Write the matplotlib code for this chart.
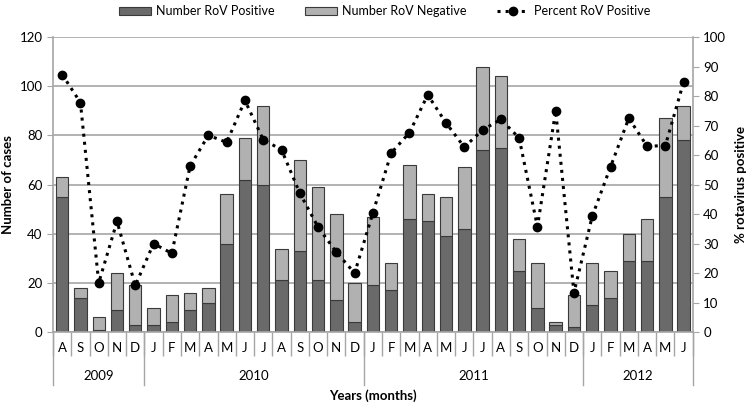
import numpy as np
import matplotlib.pyplot as plt
from matplotlib.lines import Line2D
from matplotlib.patches import Patch

plt.rcParams['font.family'] = ['Lato', 'DejaVu Sans']

months = ['A', 'S', 'O', 'N', 'D',
          'J', 'F', 'M', 'A', 'M', 'J', 'J', 'A', 'S', 'O', 'N', 'D',
          'J', 'F', 'M', 'A', 'M', 'J', 'J', 'A', 'S', 'O', 'N', 'D',
          'J', 'F', 'M', 'A', 'M', 'J']
years = ['2009', '2010', '2011', '2012']
year_counts = [5, 12, 12, 6]

positive = [55, 14, 1, 9, 3,
            3, 4, 9, 12, 36, 62, 60, 21, 33, 21, 13, 4,
            19, 17, 46, 45, 39, 42, 74, 75, 25, 10, 3, 2,
            11, 14, 29, 29, 55, 78]
negative = [8, 4, 5, 15, 16,
            7, 11, 7, 6, 20, 17, 32, 13, 37, 38, 35, 16,
            28, 11, 22, 11, 16, 25, 34, 29, 13, 18, 1, 13,
            17, 11, 11, 17, 32, 14]
percent = [87.3, 77.8, 16.7, 37.5, 15.8,
           30.0, 26.7, 56.3, 66.7, 64.3, 78.5, 65.2, 61.8, 47.1, 35.6, 27.1, 20.0,
           40.4, 60.7, 67.6, 80.4, 70.9, 62.7, 68.5, 72.1, 65.8, 35.7, 75.0, 13.3,
           39.3, 56.0, 72.5, 63.0, 63.2, 84.8]

dark = '#6a6a6a'
light = '#b1b1b1'
edge = '#3a3a3a'
grid = '#a6a6a6'
fs = 9.5

fig = plt.figure(figsize=(7.5, 4.07), dpi=100)
ax = fig.add_axes([0.0707, 0.184, 0.853, 0.725])
x = np.arange(len(months))

ax.bar(x, positive, width=0.68, color=dark, edgecolor=edge, linewidth=0.8, zorder=2)
ax.bar(x, negative, bottom=positive, width=0.68, color=light, edgecolor=edge, linewidth=0.8, zorder=2)

ax.set_ylim(0, 120)
ax.set_yticks(range(0, 121, 20))
ax.set_xlim(-0.5, len(months) - 0.5)
ax.yaxis.grid(True, color=grid, linewidth=1.2)
ax.set_axisbelow(True)
for s in ['top', 'right']:
    ax.spines[s].set_visible(False)
for s in ['left', 'bottom']:
    ax.spines[s].set_color(grid)
    ax.spines[s].set_linewidth(1.2)
ax.tick_params(axis='y', length=4, color=grid, labelsize=fs)
ax.set_ylabel('Number of cases', fontsize=fs, fontweight='bold', labelpad=4)

# month labels and separators
ax.set_xticks(x)
ax.set_xticklabels(months, fontsize=fs)
ax.tick_params(axis='x', length=0, pad=7)
ax.set_xticks(np.arange(-0.5, len(months), 1), minor=True)
ax.tick_params(axis='x', which='minor', length=17, color=grid, width=1)

# year labels and long separators
bounds = np.concatenate([[0], np.cumsum(year_counts)]) - 0.5
for b in bounds:
    ax.plot([b, b], [0, -0.18], transform=ax.get_xaxis_transform(), color=grid,
            linewidth=1, clip_on=False)
for i, yr in enumerate(years):
    ax.text((bounds[i] + bounds[i + 1]) / 2, -0.148, yr, transform=ax.get_xaxis_transform(),
            ha='center', va='center', fontsize=fs)
ax.text(0.5, -0.214, 'Years (months)', transform=ax.transAxes, ha='center', va='center',
        fontsize=fs, fontweight='bold')

ax2 = ax.twinx()
ax2.plot(x, percent, color='black', linestyle=':', linewidth=2.2, marker='o',
         markersize=6, zorder=3)
ax2.set_ylim(0, 100)
ax2.set_yticks(range(0, 101, 10))
for s in ['top', 'left', 'bottom']:
    ax2.spines[s].set_visible(False)
ax2.spines['right'].set_color(grid)
ax2.spines['right'].set_linewidth(1.2)
ax2.tick_params(axis='y', length=4, color=grid, labelsize=fs)
ax2.set_ylabel('% rotavirus positive', fontsize=fs, fontweight='bold', labelpad=6)

handles = [Patch(facecolor=dark, edgecolor=edge, linewidth=0.8),
           Patch(facecolor=light, edgecolor=edge, linewidth=0.8),
           Line2D([0], [0], color='black', linestyle=':', linewidth=2.2, marker='o', markersize=6)]
fig.legend(handles, ['Number RoV Positive', 'Number RoV Negative', 'Percent RoV Positive'],
           loc='center', bbox_to_anchor=(0.513, 0.972), ncol=3, frameon=False, fontsize=9,
           handlelength=2.6, handleheight=0.55, columnspacing=2.4, handletextpad=0.4)

fig.savefig('out.png', dpi=100)
